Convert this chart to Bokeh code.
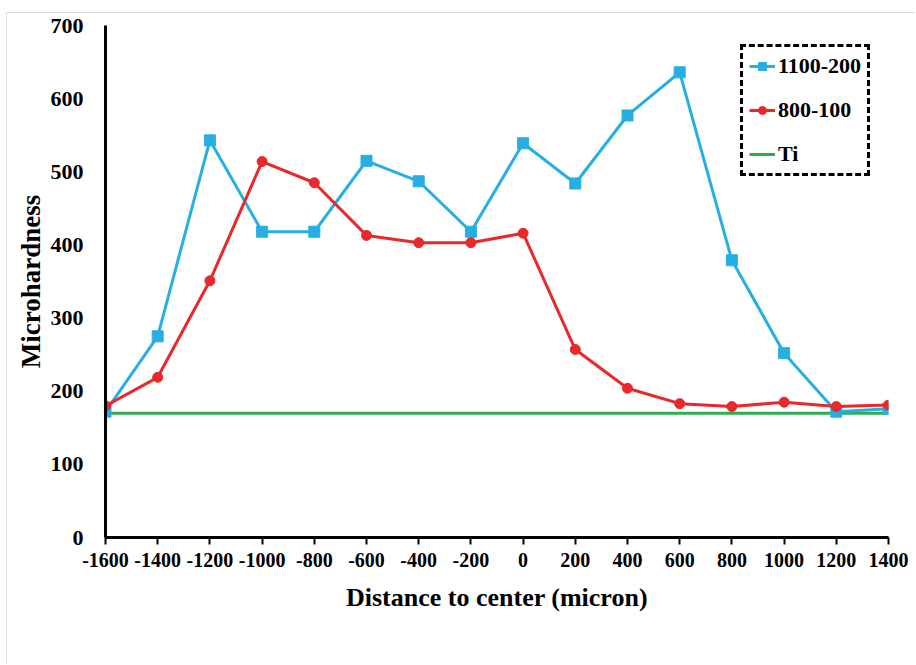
from bokeh.plotting import figure
from bokeh.models import FixedTicker, Legend, LegendItem, Range1d
from bokeh.embed import file_html
from bokeh.resources import INLINE

distance = [-1600, -1400, -1200, -1000, -800, -600, -400, -200, 0, 200, 400, 600, 800, 1000, 1200, 1400]
hard_1100_200 = [172, 275, 543, 418, 418, 515, 487, 418, 539, 484, 577, 636, 379, 252, 172, 176]
hard_800_100 = [180, 219, 351, 514, 485, 413, 403, 403, 416, 257, 204, 183, 179, 185, 179, 181]
hard_ti = [170] * len(distance)
x_ticks = [-1600, -1400, -1200, -1000, -800, -600, -400, -200, 0, 200, 400, 600, 800, 1000, 1200, 1400]
x_tick_labels = ["-1600", "-1400", "-1200", "-1000", "-800", "-600", "-400", "-200", "0",
                 "200", "400", "600", "800", "1000", "1200", "1400"]
y_ticks = [0, 100, 200, 300, 400, 500, 600, 700]

BLUE = "#27AEE3"
RED = "#E8282B"
GREEN = "#2DAE4E"
FONT = "Liberation Serif"

p = figure(width=909, height=652, output_backend="svg", toolbar_location=None,
           x_range=Range1d(-1600, 1400), y_range=Range1d(0, 700),
           min_border_left=98, min_border_right=28, min_border_top=12, min_border_bottom=128)
p.margin = (12, 0, 0, 6)
p.styles = {"border-top": "1px solid #dcdcdc", "border-left": "1px solid #dcdcdc"}
p.outline_line_color = None
p.xgrid.visible = False
p.ygrid.visible = False
p.background_fill_color = "white"
p.border_fill_color = "white"

g_ti = p.line(distance, hard_ti, line_color=GREEN, line_width=3)
l1 = p.line(distance, hard_1100_200, line_color=BLUE, line_width=3)
s1 = p.scatter(distance, hard_1100_200, marker="square", size=11, fill_color=BLUE, line_color=BLUE)
l2 = p.line(distance, hard_800_100, line_color=RED, line_width=3)
s2 = p.scatter(distance, hard_800_100, marker="circle", size=10, fill_color=RED, line_color=RED)

for ax in (p.xaxis[0], p.yaxis[0]):
    ax.axis_line_color = "black"
    ax.axis_line_width = 3
    ax.major_label_text_font = FONT
    ax.major_label_text_font_style = "bold"
    ax.major_label_text_color = "black"
    ax.axis_label_text_font = FONT
    ax.axis_label_text_font_style = "bold"
    ax.axis_label_text_color = "black"
    ax.minor_tick_line_color = None

p.xaxis.ticker = FixedTicker(ticks=x_ticks)
p.xaxis.major_label_overrides = {t: lab for t, lab in zip(x_ticks, x_tick_labels)}
p.yaxis.ticker = FixedTicker(ticks=y_ticks)
p.xaxis.axis_label = "Distance to center (micron)"
p.yaxis.axis_label = "Microhardness"
p.xaxis.major_label_text_font_size = "20px"
p.yaxis.major_label_text_font_size = "22px"
p.xaxis.axis_label_text_font_size = "26px"
p.yaxis.axis_label_text_font_size = "27px"
p.xaxis.major_tick_out = 7
p.xaxis.major_tick_in = 0
p.xaxis.major_tick_line_width = 2
p.xaxis.major_tick_line_color = "black"
p.xaxis.major_label_standoff = 8
p.xaxis.axis_label_standoff = 13
p.yaxis.major_tick_line_color = None
p.yaxis.major_tick_out = 0
p.yaxis.major_tick_in = 0
p.yaxis.major_label_standoff = 22
p.yaxis.axis_label_standoff = 2

legend = Legend(items=[
    LegendItem(label="1100-200", renderers=[l1, s1]),
    LegendItem(label="800-100", renderers=[l2, s2]),
    LegendItem(label="Ti", renderers=[g_ti]),
], location=(635, 361))
legend.label_text_font = FONT
legend.label_text_font_style = "bold"
legend.label_text_font_size = "22px"
legend.label_text_color = "black"
legend.border_line_color = "black"
legend.border_line_alpha = 1.0
legend.border_line_width = 3
legend.border_line_dash = "16 9"
legend.background_fill_alpha = 1
legend.glyph_width = 26
legend.label_standoff = 3
legend.spacing = 18
legend.padding = 6
legend.margin = 0
p.add_layout(legend, "center")

open("out.html", "w").write(file_html(p, INLINE))
